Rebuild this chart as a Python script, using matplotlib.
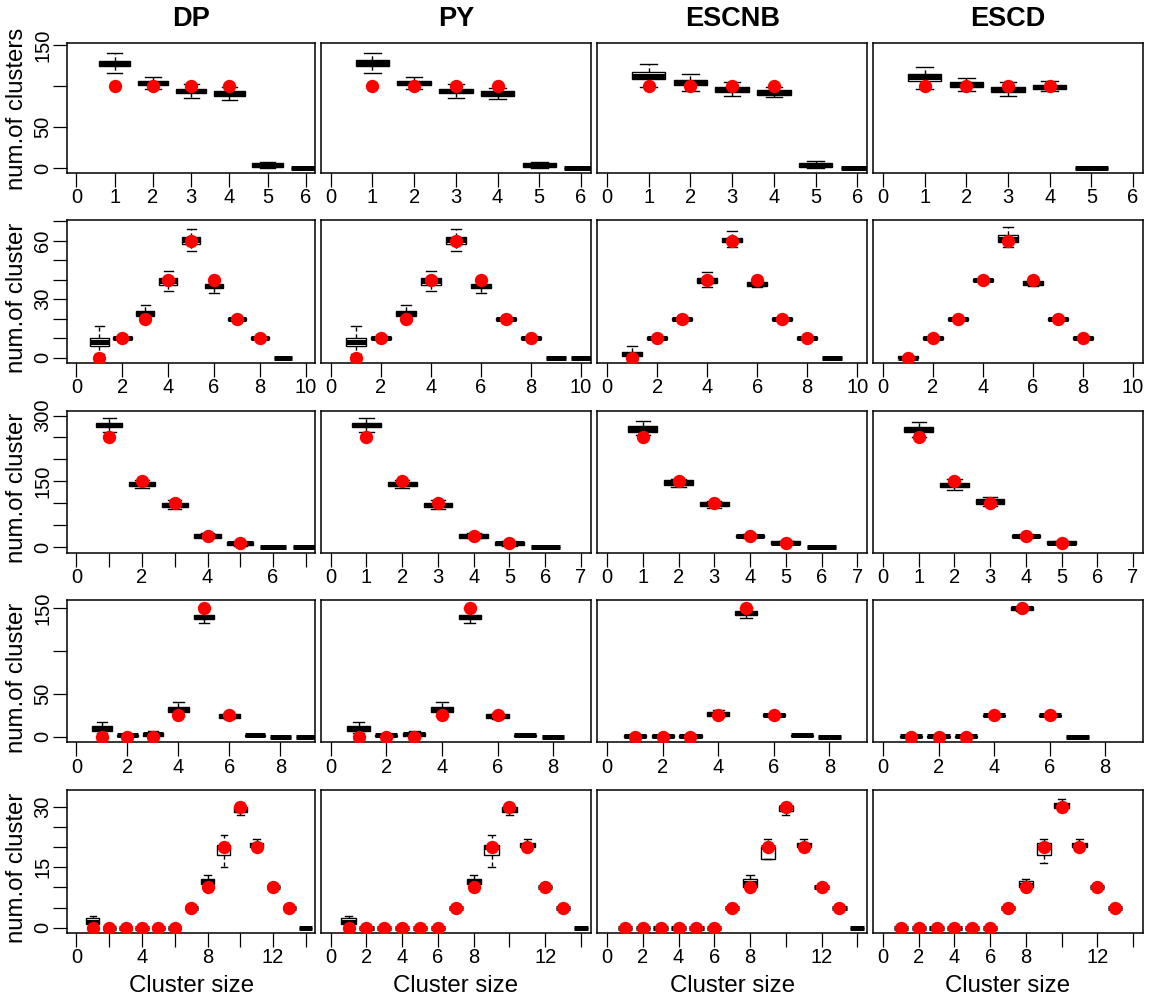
"""Boxplots of estimated cluster-size counts for four methods against the true counts (red)."""

import matplotlib

matplotlib.use("Agg")

import matplotlib.pyplot as plt

plt.rcParams["font.family"] = ["Liberation Sans", "DejaVu Sans"]

W, H = 1151, 1002

METHODS = ["DP", "PY", "ESCNB", "ESCD"]

# true number of clusters of each size (red points), sizes start at 1
TRUE_R1 = [100, 100, 100, 100]
TRUE_R2 = [0, 10, 20, 40, 60, 40, 20, 10]
TRUE_R3 = [250, 150, 100, 25, 10]
TRUE_R4 = [0, 0, 0, 25, 150, 25]
TRUE_R5 = [0, 0, 0, 0, 0, 0, 5, 10, 20, 30, 20, 10, 5]

# box summaries per cluster size: (whisker low, q1, median, q3, whisker high)
DP_R1 = [(116, 124.5, 127.5, 131, 140), (96, 101.5, 104, 106, 111.5), (86, 91.5, 94, 96.5, 102),
         (83, 88.5, 91, 94, 98.5), (0, 2, 4.5, 6, 8), (0, 0, 0, 0, 0)]
PY_R1 = [(116, 124.5, 128, 131.5, 140), (96, 101.5, 104, 106.5, 111.5), (86, 91.5, 94, 96.5, 102),
         (84, 88.5, 91, 93.5, 98), (0, 2, 4.5, 6, 8), (0, 0, 0, 0, 0)]
ESCNB_R1 = [(98.5, 108.5, 112, 117, 126.5), (94.5, 101, 104, 107.5, 114.5), (88, 93, 96, 98.5, 104.5),
            (86.5, 89.5, 92.5, 95, 98.5), (0, 2, 4.5, 7, 8.5), (0, 0, 0, 0, 0)]
ESCD_R1 = [(97, 106, 110.5, 114.5, 123.5), (93.5, 99.5, 102, 105, 110), (88, 93, 96, 98.5, 104.5),
           (94.5, 96, 99.5, 101.5, 106), (0, 0, 0, 0, 0)]

DP_R2 = [(2, 6, 8, 10, 16), (9, 9.5, 10, 10.5, 11), (19, 21.5, 23, 24, 27), (34, 37.5, 39.5, 41, 44.5),
         (54.5, 58.5, 60.5, 62, 66), (33, 35.5, 37, 38, 40), (19, 19.5, 20, 20.5, 21),
         (9.5, 9.5, 10, 10.5, 10.5), (0, 0, 0, 0, 0)]
PY_R2 = [(2, 6, 8, 10, 16), (9, 9.5, 10, 10.5, 11), (19, 21.5, 23, 24, 27), (34, 37.5, 39.5, 41, 44.5),
         (54.5, 58.5, 60.5, 62, 66), (33, 35.5, 37, 38, 40), (19, 19.5, 20, 20.5, 21),
         (9.5, 9.5, 10, 10.5, 10.5), (0, 0, 0, 0, 0), (0, 0, 0, 0, 0)]
ESCNB_R2 = [(0, 1, 2, 3, 6), (9, 9.5, 10, 10.5, 11), (19, 19.5, 20, 20.5, 21), (36, 38.5, 40, 41, 44),
            (56.5, 59.5, 60.5, 61.5, 65), (36, 37, 38, 39, 40), (19, 19.5, 20, 20.5, 21),
            (9.5, 9.5, 10, 10.5, 10.5), (0, 0, 0, 0, 0)]
ESCD_R2 = [(0, 0, 0, 1, 1), (9, 9.5, 10, 10.5, 11), (19, 19.5, 20, 20.5, 21), (39, 39.5, 40, 40.5, 41),
           (56.5, 59.5, 61, 63, 67), (37, 37.5, 38.5, 39.5, 40), (19, 19.5, 20, 20.5, 21),
           (9.5, 9.5, 10, 10.5, 10.5)]

DP_R3 = [(262, 273, 278.5, 284, 295), (134, 139, 144, 148.5, 153), (86, 92, 96.5, 101, 107),
         (20, 21.5, 25, 29, 31), (3, 4.5, 8.5, 12, 14), (0, 0, 0, 0, 0), (0, 0, 0, 0, 0)]
PY_R3 = [(262, 273, 278.5, 284, 295), (134, 139, 144, 148.5, 153), (86, 92, 96.5, 101, 107),
         (20, 21.5, 25, 29, 31), (3, 4.5, 8.5, 12, 14), (0, 0, 0, 0, 0)]
ESCNB_R3 = [(256, 263.5, 270, 276.5, 288), (136, 142, 147.5, 152, 155), (88, 93.5, 99, 103.5, 106),
            (21, 22, 25, 28, 30), (6, 7, 10, 13, 14), (0, 0, 0, 0, 0)]
ESCD_R3 = [(250, 262, 268, 273.5, 285.5), (130, 136.5, 141.5, 147, 154.5), (93.5, 97.5, 105, 109.5, 114),
           (21, 22, 25, 28, 30), (6, 7, 10, 13, 14)]

DP_R4 = [(4, 7, 10, 12.5, 17.5), (0, 1, 1.5, 2.5, 3), (0, 1, 3, 4.5, 6.5), (24, 29, 32, 34.5, 40),
         (132.5, 137.5, 139.5, 142, 150), (21, 22, 24, 26.5, 28), (0.5, 1, 1.5, 2, 2),
         (0, 0, 0, 0, 0), (0, 0, 0, 0, 0)]
PY_R4 = [(4, 7, 10, 12.5, 17.5), (0, 1, 1.5, 2.5, 3), (0, 1, 3, 4.5, 6.5), (24, 29, 32, 34.5, 40),
         (132.5, 137.5, 139.5, 142, 150), (21, 22, 24, 26.5, 28), (0.5, 1, 1.5, 2, 2), (0, 0, 0, 0, 0)]
ESCNB_R4 = [(0, 0, 1, 2, 2), (0, 0, 1, 2, 2), (0, 0, 1, 2, 2), (23, 24, 26.5, 29, 31),
            (139, 142.5, 145, 147.5, 150), (23, 24, 25, 26, 27), (0.5, 1, 1.5, 2, 2), (0, 0, 0, 0, 0)]
ESCD_R4 = [(0, 0, 0.5, 1, 1.5), (0, 0, 0.5, 1, 1.5), (0, 0, 0.5, 1, 1.5), (24, 24.5, 25, 25.5, 26),
           (147, 148, 150, 151.5, 152), (24, 24.5, 25, 25.5, 26), (0, 0, 0, 0, 0)]

DP_R5 = [(0, 1, 1.5, 2.5, 3), (0, 0, 0, 0, 0), (0, 0, 0, 0, 0), (0, 0, 0, 0, 0), (0, 0, 0, 0, 0),
         (0, 0, 0, 0, 0), (5, 5, 5, 5, 5), (10, 10.8, 11.4, 12, 13), (15, 18, 20, 20.5, 23),
         (28, 28.8, 29.5, 30, 30.5), (19.5, 20, 20.5, 21, 22), (10, 10, 10, 10, 10), (5, 5, 5, 5, 5),
         (0, 0, 0, 0, 0)]
PY_R5 = [(0, 1, 1.5, 2.5, 3), (0, 0, 0, 0, 0), (0, 0, 0, 0, 0), (0, 0, 0, 0, 0), (0, 0, 0, 0, 0),
         (0, 0, 0, 0, 0), (5, 5, 5, 5, 5), (10, 10.8, 11.4, 12, 13), (15, 18, 20, 20.5, 23),
         (28, 28.8, 29.5, 30, 30.5), (19.5, 20, 20.5, 21, 22), (10, 10, 10, 10, 10), (5, 5, 5, 5, 5),
         (0, 0, 0, 0, 0)]
ESCNB_R5 = [(0, 0, 0, 0, 0), (0, 0, 0, 0, 0), (0, 0, 0, 0, 0), (0, 0, 0, 0, 0), (0, 0, 0, 0, 0),
            (0, 0, 0, 0, 0), (5, 5, 5, 5, 5), (10, 10.2, 11.2, 12.1, 13), (17, 17, 20, 20, 22),
            (28, 29, 30, 30.3, 30.5), (20, 20, 20.5, 21, 22), (10, 10, 10, 10, 10), (5, 5, 5, 5, 5),
            (0, 0, 0, 0, 0)]
ESCD_R5 = [(0, 0, 0, 0, 0), (0, 0, 0, 0, 0), (0, 0, 0, 0, 0), (0, 0, 0, 0, 0), (0, 0, 0, 0, 0),
           (0, 0, 0, 0, 0), (5, 5, 5, 5, 5), (10, 10.2, 10.5, 11.7, 12.1), (16, 18, 20, 21, 22),
           (29, 29.8, 30.4, 31, 32), (20, 20, 20.5, 21, 22), (10, 10, 10, 10, 10), (5, 5, 5, 5, 5)]

TRUTH = [TRUE_R1, TRUE_R2, TRUE_R3, TRUE_R4, TRUE_R5]
BOXES = [
    [DP_R1, PY_R1, ESCNB_R1, ESCD_R1],
    [DP_R2, PY_R2, ESCNB_R2, ESCD_R2],
    [DP_R3, PY_R3, ESCNB_R3, ESCD_R3],
    [DP_R4, PY_R4, ESCNB_R4, ESCD_R4],
    [DP_R5, PY_R5, ESCNB_R5, ESCD_R5],
]

# y label text per row; the original cut the final "s" off below the first row
Y_TITLES = ["num.of clusters", "num.of cluster", "num.of cluster", "num.of cluster", "num.of cluster"]

# axis ranges, ticks and the tick labels that are printed
X_MAX = [6, 10, 7, 9, 14]
X_TICKS = [list(range(0, 7)), list(range(0, 11, 2)), list(range(0, 8)), list(range(0, 9, 2)), list(range(0, 15, 2))]
X_SHOWN = {(2, 0): [0, 2, 4, 6], (4, 0): [0, 4, 8, 12], (4, 1): [0, 2, 4, 6, 8, 12],
           (4, 2): [0, 2, 4, 6, 8, 12], (4, 3): [0, 2, 4, 6, 8, 12]}
Y_LIMS = [(-5.4, 152.1), (-2.6, 70.6), (-13, 311), (-6.6, 159.9), (-1.25, 34.2)]
Y_TICKS = [[0, 50, 100, 150], list(range(0, 71, 10)), list(range(0, 301, 50)), [0, 50, 100, 150], list(range(0, 31, 5))]
Y_SHOWN = [[0, 50, 150], [0, 30, 60], [0, 150, 300], [0, 50, 150], [0, 15, 30]]

# panel edges in pixels
COL_PX = [(67.3, 315.0), (320.7, 591.0), (597.0, 867.3), (873.0, 1143.0)]
ROW_PX = [(43.3, 172.7), (220.0, 362.7), (410.7, 552.7), (600.0, 742.3), (790.0, 932.7)]
YLAB_HALF = 81.5  # half length of the full y label, px
TICK_FS = 14.5


def draw_panel(ax, boxes, truth, r, c):
    stats = [{"whislo": s[0], "q1": s[1], "med": s[2], "q3": s[3], "whishi": s[4]} for s in boxes]
    ax.bxp(
        stats,
        positions=list(range(1, len(stats) + 1)),
        widths=0.8,
        capwidths=0.4,
        showfliers=False,
        patch_artist=True,
        boxprops=dict(facecolor="white", edgecolor="black", linewidth=1.0),
        whiskerprops=dict(color="black", linewidth=1.0, linestyle=(0, (3, 2))),
        capprops=dict(color="black", linewidth=1.0),
        medianprops=dict(color="black", linewidth=3.6, solid_capstyle="butt"),
        manage_ticks=False,
    )
    ax.plot(range(1, len(truth) + 1), truth, "o", color="#ff0000", markersize=9.6, markeredgewidth=0, zorder=5)

    pad = 0.04 * X_MAX[r]
    ax.set_xlim(-pad, X_MAX[r] + pad)
    ax.set_ylim(*Y_LIMS[r])

    shown = X_SHOWN.get((r, c), X_TICKS[r])
    ax.set_xticks(X_TICKS[r], [str(t) if t in shown else "" for t in X_TICKS[r]])
    ax.tick_params(axis="x", direction="out", length=10, width=0.9, labelsize=TICK_FS, pad=1.2)

    if c == 0:
        ax.set_yticks(Y_TICKS[r], [str(t) if t in Y_SHOWN[r] else "" for t in Y_TICKS[r]])
        ax.tick_params(axis="y", direction="out", length=10, width=0.9, labelsize=TICK_FS, pad=0.8, labelrotation=90)
        plt.setp(ax.get_yticklabels(), va="center")
    else:
        ax.set_yticks([])
    for sp in ax.spines.values():
        sp.set_linewidth(1.1)


def main():
    fig = plt.figure(figsize=(W / 100, H / 100), dpi=100)
    for r in range(5):
        top, bot = ROW_PX[r]
        for c in range(4):
            left, right = COL_PX[c]
            ax = fig.add_axes([left / W, 1 - bot / H, (right - left) / W, (bot - top) / H])
            draw_panel(ax, BOXES[r][c], TRUTH[r], r, c)
            if r == 0:
                fig.text((left + right) / 2 / W, 1 - 19 / H, METHODS[c], ha="center", va="center",
                         fontsize=19.5, fontweight="bold")
            if r == 4:
                fig.text((left + right) / 2 / W, 1 - 992 / H, "Cluster size", ha="center", va="baseline",
                         fontsize=17.3)
        # the label starts at the same place as the full one would
        start = (top + bot) / 2 + YLAB_HALF
        fig.text(17.5 / W, 1 - start / H, Y_TITLES[r], rotation=90, ha="center", va="bottom", fontsize=17.3)
    fig.savefig("out.png", dpi=100)
    plt.close(fig)


if __name__ == "__main__":
    main()
